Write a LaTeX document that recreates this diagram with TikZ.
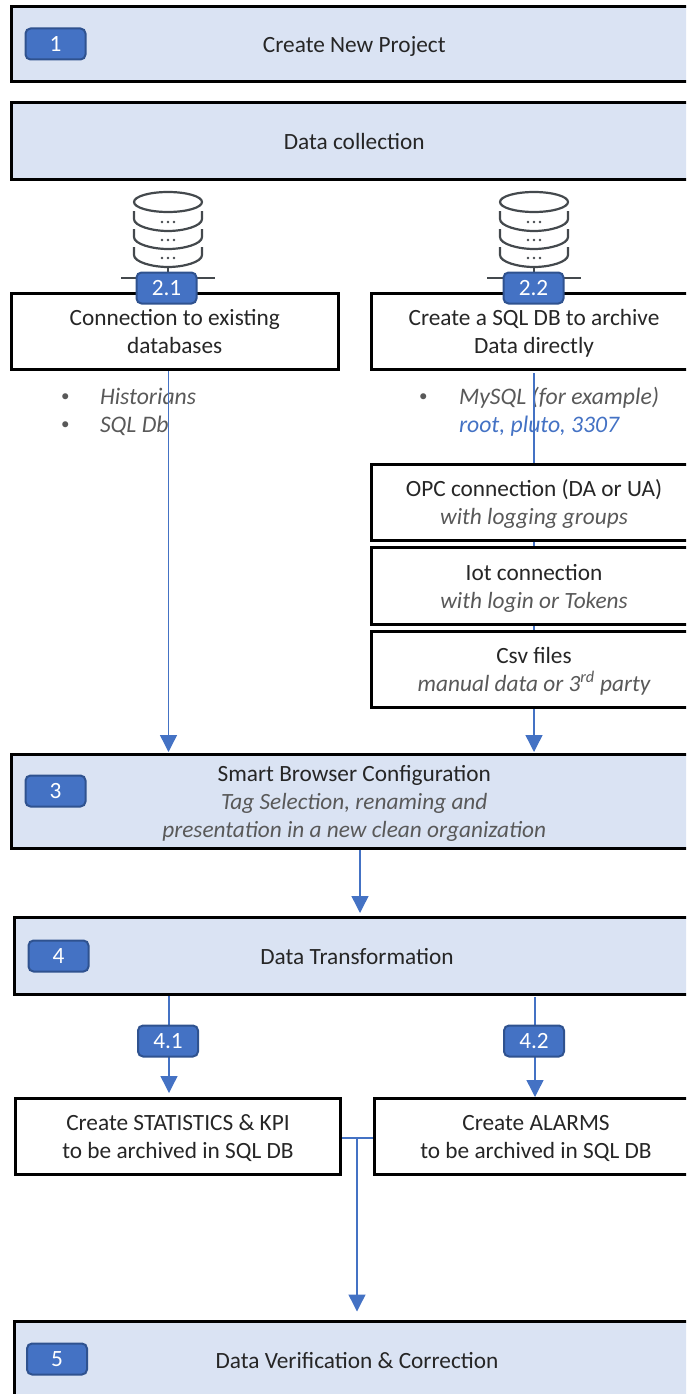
\documentclass[tikz,border=0pt]{standalone}
\usepackage{fontspec}
\setmainfont{Carlito}
\usetikzlibrary{arrows.meta}
\pgfdeclarelayer{lists}
\pgfdeclarelayer{links}
\pgfsetlayers{lists,links,main}
\definecolor{phasefill}{HTML}{DAE3F3}
\definecolor{accent}{HTML}{4472C4}
\definecolor{accentdark}{HTML}{2F528F}
\definecolor{ink}{HTML}{262626}
\definecolor{soft}{HTML}{595959}
\definecolor{iconline}{HTML}{44494D}
\newcommand{\sub}[1]{{\itshape\color{soft}#1}}
\newcommand{\tstrut}{\rule[-5.5pt]{0pt}{28pt}}
\newcommand{\dbicon}[2]{%
  \begin{scope}[shift={(#1,#2)},iconline,line width=2.2pt]
    \draw (0,-76) ellipse [x radius=34,y radius=10];
    \foreach \dy in {-67,-49,-31}{
      \draw (-34,\dy) -- (-34,\dy+8) .. controls (-34,\dy+15) and (-16,\dy+20) .. (0,\dy+20)
            .. controls (16,\dy+20) and (34,\dy+15) .. (34,\dy+8) -- (34,\dy);
      \foreach \dx in {-6,0,6}{\fill (\dx,\dy+11) circle [radius=1.4];}
    }
    \draw (0,-11) -- (0,0);
    \draw (-47,0) -- (47,0);
  \end{scope}}
\tikzset{
  x=1pt,y=-1pt,
  every node/.style={font=\fontsize{23.3}{28}\selectfont,text=ink,align=center,inner sep=0pt,outer sep=0pt},
  phase/.style={draw=black,fill=phasefill,line width=3pt,minimum width=#1},
  phase/.default=685.5pt,
  plainbox/.style={draw=black,fill=white,line width=3pt,minimum width=#1},
  badge/.style={draw=accentdark,fill=accent,line width=2pt,rounded corners=5pt,minimum width=60pt,minimum height=31pt,text=white},
  listtext/.style={anchor=west,text=soft,font=\fontsize{23.7}{28}\selectfont\itshape},
  listmark/.style={anchor=west,text=soft,font=\fontsize{17}{28}\selectfont},
  link/.style={draw=accent,line width=1.4pt},
  flow/.style={link,-{Triangle[width=17pt,length=17pt]}}
}
\begin{document}
\begin{tikzpicture}
\clip (0,0) rectangle (686,1394);

% phase boxes
\node[phase,minimum height=75.5pt] (b1) at (354.25,44.25) {\tstrut Create New Project};
\node[phase,minimum height=76pt] (b2) at (354.25,141) {\tstrut Data collection};

\dbicon{168}{278}
\dbicon{534}{278}

\node[plainbox=326.5pt,minimum height=76pt] (b21) at (174.75,331) {\tstrut Connection to existing\\\tstrut databases};
\node[plainbox=326pt,minimum height=76pt] (b22) at (534,331) {\tstrut Create a SQL DB to archive\\\tstrut Data directly};

\node[plainbox=326pt,minimum height=76pt] (opc) at (534,502) {\tstrut OPC connection (DA or UA)\\\tstrut\sub{with logging groups}};
\node[plainbox=326pt,minimum height=77pt] (iot) at (534,585.5) {\tstrut Iot connection\\\tstrut\sub{with login or Tokens}};
\node[plainbox=326pt,minimum height=76pt] (csv) at (534,669) {\tstrut Csv files\\\tstrut\sub{manual data or 3\smash{\textsuperscript{rd}} party}};

\node[phase,minimum height=94pt] (b3) at (354.25,801) {\tstrut Smart Browser Configuration\\\tstrut\sub{Tag Selection, renaming and}\\\tstrut\sub{presentation in a new clean organization}};
\node[phase=686pt,minimum height=77pt] (b4) at (357,955.5) {\tstrut Data Transformation};

\node[plainbox=325.5pt,minimum height=76pt] (stat) at (178,1136) {\tstrut Create STATISTICS \& KPI\\\tstrut to be archived in SQL DB};
\node[plainbox=324pt,minimum height=76pt] (alarm) at (536,1136) {\tstrut Create ALARMS\\\tstrut to be archived in SQL DB};

\node[phase=686pt,minimum height=78pt] (b5) at (357,1360) {\tstrut Data Verification \& Correction};

% badges
\node[badge] (n1) at (55.5,44) {1};
\node[badge] (n21) at (166.5,288) {2.1};
\node[badge] (n22) at (533.5,288) {2.2};
\node[badge] (n3) at (55.5,791) {3};
\node[badge] (n4) at (58.5,956) {4};
\node[badge] (n41) at (168,1041) {4.1};
\node[badge] (n42) at (534,1041) {4.2};
\node[badge] (n5) at (57,1359) {5};

% lists (beneath the connectors)
\begin{pgfonlayer}{lists}
\node[listmark] (l1a) at (61,393) {\tstrut •};
\node[listtext] (l1) at (100,396) {\tstrut Historians};
\node[listmark] (l2a) at (61,421) {\tstrut •};
\node[listtext] (l2) at (100,424) {\tstrut SQL Db};
\node[listmark] (r1a) at (419,393) {\tstrut •};
\node[listtext] (r1) at (459,396) {\tstrut MySQL (for example)};
\node[listtext,text=accent] (r2) at (459,424) {\tstrut root, pluto, 3307};
\end{pgfonlayer}

% connectors
\coordinate (s21) at (168.5,369);
\coordinate (s22) at (534,373);
\coordinate (s3) at (360,848);
\coordinate (s41) at (169,994);
\coordinate (s42) at (535,997);
\coordinate (junction) at (357,1138);
\begin{pgfonlayer}{links}
\draw[flow,shorten >=2pt] (s21) -- (s21 |- b3.north);
\draw[flow,shorten >=2pt] (s22) -- (s22 |- b3.north);
\draw[flow,shorten >=4pt] (s3) -- (s3 |- b4.north);
\draw[flow,shorten >=5pt] (s41) -- (s41 |- stat.north);
\draw[flow,shorten >=1pt] (s42) -- (s42 |- alarm.north);
\draw[link] ([yshift=-2pt]stat.east) -- ([yshift=-2pt]alarm.west);
\draw[flow,shorten >=9.5pt] (junction) -- (junction |- b5.north);
\end{pgfonlayer}
\end{tikzpicture}
\end{document}
